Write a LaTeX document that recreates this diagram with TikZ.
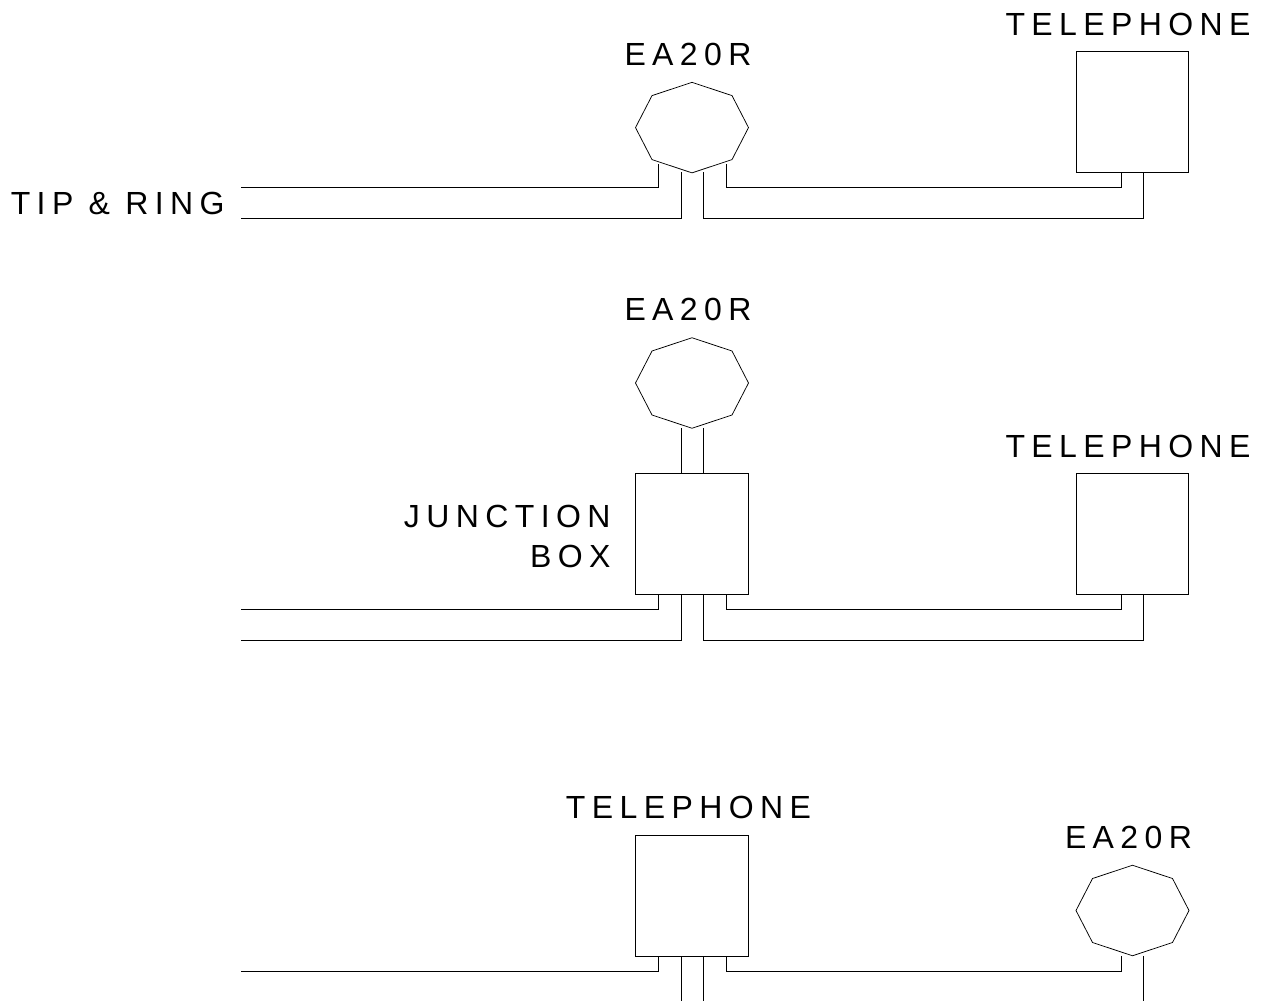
\documentclass[tikz,border=0pt]{standalone}
\usepackage{fontspec}
\setmainfont{Liberation Sans}
\newfontfamily\lbl[LetterSpace=20]{Liberation Sans}
\usetikzlibrary{calc}
\tikzset{
  x=1pt,y=-1pt,
  wire/.style={draw=black,line width=0.75pt,line join=miter},
  boxnode/.style={draw=black,line width=0.75pt,rectangle,minimum width=112.6pt,minimum height=120.5pt,inner sep=0pt,outer sep=0pt},
  octnode/.style={rectangle,minimum width=113pt,minimum height=90.5pt,inner sep=0pt,outer sep=0pt},
  lab/.style={font=\lbl\fontsize{32}{38}\selectfont,inner sep=0pt,outer sep=0pt,text=black},
}
\newcommand{\octa}[3]{%
  \node[octnode] (#1) at (#2,#3) {};
  \draw[wire] (#1.north) -- ($(#1.center)+(40,-32)$) -- (#1.east) -- ($(#1.center)+(40,32)$) -- (#1.south)
    -- ($(#1.center)+(-40,32)$) -- (#1.west) -- ($(#1.center)+(-40,-32)$) -- cycle;
}
\begin{document}
\begin{tikzpicture}
\useasboundingbox (0,0) rectangle (1268,1001);
% row 1
\octa{oa}{692}{127.6}
\node[boxnode] (ta) at (1132.5,112) {};
\coordinate (la1) at (241,187.5);
\coordinate (la2) at (241,218.5);
\coordinate (oa1) at (658.5,164);
\coordinate (oa2) at (681,172);
\coordinate (oa3) at (703.5,172);
\coordinate (oa4) at (726,164);
\draw[wire] (la1) -| (oa1);
\draw[wire] (la2) -| (oa2);
\draw[wire] (oa4) |- ($(la1 -| ta.south)+(-11.5,0)$) -- ($(ta.south)+(-11.5,0)$);
\draw[wire] (oa3) |- ($(la2 -| ta.south)+(11,0)$) -- ($(ta.south)+(11,0)$);
\node[lab,anchor=base] (ea) at (688,65.5) {EA20R};
\node[lab,anchor=base] (tl) at (1128,35) {TELEPHONE};
\node[lab,anchor=base east] (tr) at (224.5,214) {TIP \& RING};
% row 2
\octa{ob}{692}{383}
\node[boxnode] (jb) at (692,534) {};
\node[boxnode] (tb) at (1132.5,534) {};
\coordinate (lb1) at (241,609.5);
\coordinate (lb2) at (241,640.5);
\draw[wire] ($(ob.south)+(-11,0)$) -- ($(jb.north)+(-11,0)$);
\draw[wire] ($(ob.south)+(11.5,0)$) -- ($(jb.north)+(11.5,0)$);
\draw[wire] (lb1) -| ($(jb.south)+(-33.5,0)$);
\draw[wire] (lb2) -| ($(jb.south)+(-11,0)$);
\draw[wire] ($(jb.south)+(34,0)$) |- ($(lb1 -| tb.south)+(-11.5,0)$) -- ($(tb.south)+(-11.5,0)$);
\draw[wire] ($(jb.south)+(11.5,0)$) |- ($(lb2 -| tb.south)+(11,0)$) -- ($(tb.south)+(11,0)$);
\node[lab,anchor=base] (eb) at (688,320.5) {EA20R};
\node[lab,anchor=base] (tlb) at (1128,457) {TELEPHONE};
\node[lab,anchor=base east] (jl) at (610.5,527.5) {JUNCTION};
\node[lab,anchor=base east] (jl2) at (610.5,567) {BOX};
% row 3
\node[boxnode] (tc) at (692,896) {};
\octa{oc}{1132.5}{910.5}
\coordinate (lc1) at (241,971.5);
\coordinate (bc1) at (681,1001);
\coordinate (bc2) at (703.5,1001);
\coordinate (bc3) at (1143.5,1000.5);
\draw[wire] (lc1) -| ($(tc.south)+(-33.5,0)$);
\draw[wire] ($(tc.south)+(-11,0)$) -- (bc1);
\draw[wire] ($(tc.south)+(11.5,0)$) -- (bc2);
\draw[wire] ($(tc.south)+(34,0)$) |- ($(lc1 -| oc.south)+(-11.5,0)$) -- ($(oc.south)+(-11.5,0)$);
\draw[wire] ($(oc.south)+(11,0)$) -- (bc3);
\node[lab,anchor=base] (tlc) at (688.5,818.7) {TELEPHONE};
\node[lab,anchor=base] (ec) at (1128.5,848.7) {EA20R};
\end{tikzpicture}
\end{document}
